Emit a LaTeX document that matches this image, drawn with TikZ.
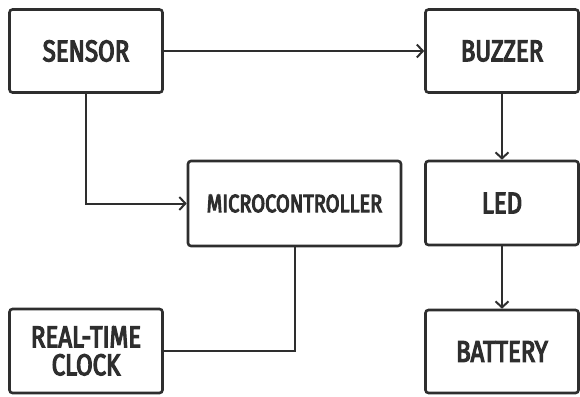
\documentclass[tikz,border=0pt]{standalone}
\usepackage{fontspec}
\newfontfamily\lblfont[FakeStretch=0.8, FakeBold=4]{Fira Sans}
\usetikzlibrary{arrows.meta}
\definecolor{ink}{HTML}{2E2E2E}
\begin{document}
\begin{tikzpicture}[x=1pt,y=-1pt,
  blk/.style={draw=ink, line width=2.6pt, rounded corners=3pt, fill=white,
    minimum width=#1, inner sep=0pt, font=\lblfont\fontsize{30}{30}\selectfont,
    text=ink, align=center},
  blk/.default=153pt,
  conn/.style={draw=ink, line width=2pt},
  arr/.style={conn, -{Straight Barb[length=6pt,width=13pt,line width=2pt]}}]
\useasboundingbox (0,0) rectangle (580,396);
\fill[white] (0,0) rectangle (580,396);
\node[blk=153pt, minimum height=83pt] (sensor) at (86,51) {SENSOR};
\node[blk=153pt, minimum height=83pt] (buzzer) at (502,51) {BUZZER};
\node[blk=213pt, minimum height=85pt, font=\lblfont\fontsize{25}{27}\selectfont] (mcu) at (294.5,203.5) {MICROCONTROLLER};
\node[blk=153pt, minimum height=84pt] (led) at (502,203) {LED};
\node[blk=153pt, minimum height=84pt] (rtc) at (86,351) {REAL-TIME\\[-2pt]CLOCK};
\node[blk=153pt, minimum height=83pt] (battery) at (502,351.5) {BATTERY};
\draw[arr] (sensor.east) -- (buzzer.west);
\draw[arr] (sensor.south) |- (mcu.west);
\draw[arr] (buzzer.south) -- (led.north);
\draw[arr] (led.south) -- (battery.north);
\draw[conn] (mcu.south) |- (rtc.east);
\end{tikzpicture}
\end{document}
